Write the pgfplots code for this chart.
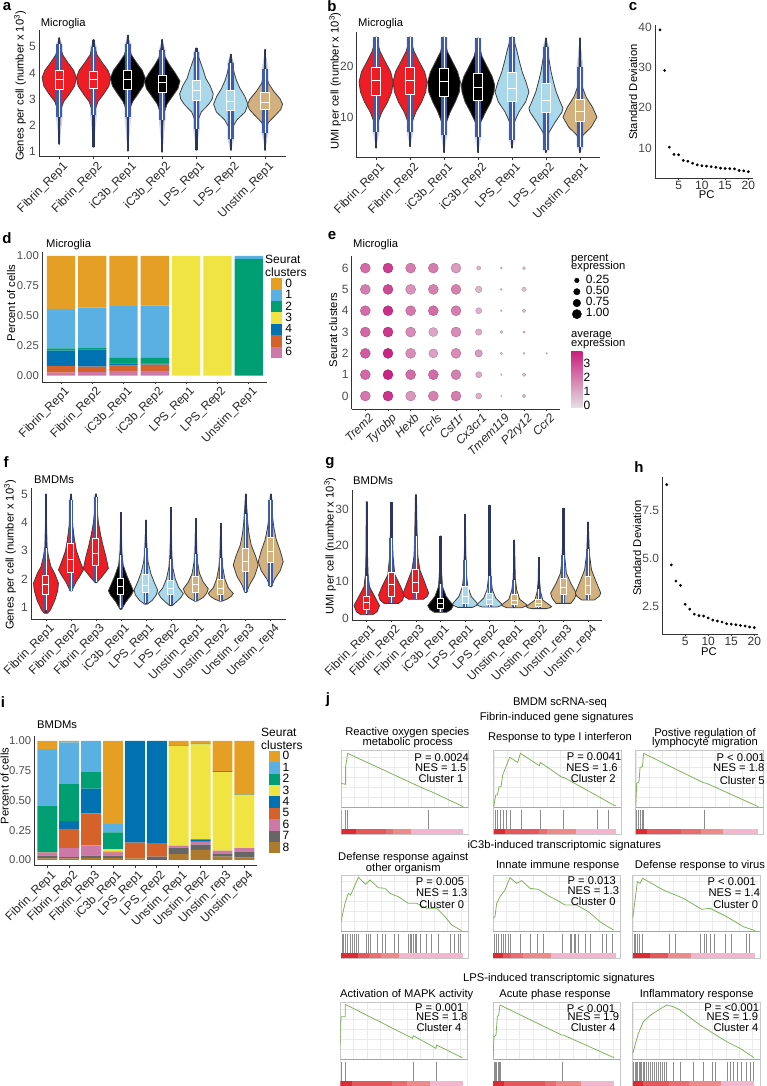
\documentclass[border=0pt]{standalone}
\usepackage{fontspec}
\setmainfont{Liberation Sans}
\usepackage{pgfplots}
\usepackage{pgfplotstable}
\pgfplotsset{compat=1.18}

\definecolor{cZ}{HTML}{E69F25}
\definecolor{cA}{HTML}{5AB0E2}
\definecolor{cB}{HTML}{009E73}
\definecolor{cC}{HTML}{F0E442}
\definecolor{cD}{HTML}{0072B2}
\definecolor{cE}{HTML}{D5622A}
\definecolor{cF}{HTML}{CC79A7}
\definecolor{cG}{HTML}{666666}
\definecolor{cH}{HTML}{AD7A2E}
\definecolor{vred}{HTML}{EE1C25}
\definecolor{vblue}{HTML}{A8D8EA}
\definecolor{vtan}{HTML}{D2B17F}
\definecolor{band}{HTML}{3F5BA9}
\definecolor{spine}{HTML}{2A3560}
\definecolor{sA}{HTML}{DC2B35}
\definecolor{sB}{HTML}{E5575B}
\definecolor{sC}{HTML}{E86E72}
\definecolor{sD}{HTML}{EE8A8A}
\definecolor{sP}{HTML}{F4B6CF}
\definecolor{gcurve}{HTML}{7FB45A}
\definecolor{hi}{HTML}{C8207F}
\definecolor{lo}{HTML}{E4E0E2}

\newcommand\tk{\fontsize{12}{13}\selectfont}
\newcommand\sm{\fontsize{11.2}{12}\selectfont}
\newcommand\txt[4][]{\node[inner sep=0pt,font=\sm,#1] at (#2pt,-#3pt) {#4};}
\newcommand\plab[3]{\node[inner sep=0pt,font=\fontsize{15}{15}\selectfont\bfseries] at (#1pt,-#2pt) {#3};}

\pgfplotsset{
  panel/.style={scale only axis,axis lines=left,clip=false,
    axis line style={-,black!80,line width=1pt},
    tick align=outside,major tick length=2pt,
    tick style={black!80,line width=.6pt},ytick style={draw=none},
    yticklabel style={font=\tk,text=black!70,inner sep=1pt},
    xticklabel style={font=\tk,text=black!80,inner sep=1pt},
    /pgf/number format/assume math mode=true},
  rot/.style={xticklabel style={rotate=45,anchor=north east,font=\tk,text=black!85,inner sep=1pt,xshift=2pt,yshift=-2pt}},
  lg/.style={draw=none,fill=#1,legend image code/.code={\fill[fill=#1] (0pt,-5.7pt) rectangle (11pt,5.7pt);}},
}

% violin outline, mirrored from y/halfwidth pairs
\newcommand\vio[3]{%
  \gdef\acR{}\gdef\acL{}%
  \foreach \yy/\ww in {#3}{%
    \pgfmathsetmacro\xr{#1+\ww}\pgfmathsetmacro\xl{#1-\ww}%
    \xdef\acR{\acR (\xr,\yy)}\xdef\acL{(\xl,\yy) \acL}}%
  \edef\tmp{\noexpand\addplot[fill=#2,draw=black!75,line width=.8pt,forget plot] coordinates {\acR\space\acL} -- cycle;}\tmp}
% centre, fill, ymin, lower whisker, q1, median, q3, upper whisker, ymax
\newcommand\vbx[9]{%
  \pgfmathsetmacro\xa{#1-.12}\pgfmathsetmacro\xb{#1+.12}%
  \pgfmathsetmacro\fa{#1-\fuzz}\pgfmathsetmacro\fb{#1+\fuzz}%
  \addplot[fill=band,draw=none,opacity=.25,forget plot] coordinates {(#1,#3)(\fb,#4)(\fb,#8)(#1,#9)(\fa,#8)(\fa,#4)} -- cycle;
  \addplot[spine,line width=\spw,forget plot] coordinates {(#1,#3)(#1,#9)};
  \addplot[band,line width=\bdw,forget plot] coordinates {(#1,#4)(#1,#8)};
  \addplot[white,line width=.8pt,forget plot] coordinates {(#1,#4)(#1,#8)};
  \addplot[fill=#2,draw=white,line width=1pt,forget plot] coordinates {(\xa,#5)(\xb,#5)(\xb,#7)(\xa,#7)} -- cycle;
  \addplot[white,line width=1pt,forget plot] coordinates {(\xa,#6)(\xb,#6)};
}
% GSEA panel: left, top, curve, hit positions, colour bar segments
\newcommand\gs[5]{%
\begin{axis}[at={(#1pt,-#2pt)},anchor=north west,scale only axis,width=127.3pt,height=83.3pt,
  xmin=0,xmax=382,ymin=0,ymax=250,y dir=reverse,
  xtick={0,40,...,380},ytick={20,50,...,170},xticklabels={},yticklabels={},tick style={draw=none},
  grid=major,grid style={black!8,line width=.4pt},axis line style={black!22,line width=.5pt}]
  \addplot[fill=white,draw=none,forget plot] coordinates {(0,170)(382,170)(382,250)(0,250)} -- cycle;
  \addplot[black!35,line width=.5pt,forget plot] coordinates {(0,170)(382,170)};
  \addplot[gcurve,line width=.8pt,forget plot] coordinates {#3};
  \foreach \t in {#4}{\edef\tmp{\noexpand\addplot[black!45,line width=.75pt,forget plot] coordinates {(\t,178)(\t,235)};}\tmp}
  \foreach \c/\p/\q in {#5}{\edef\tmp{\noexpand\addplot[fill=\c,draw=none,forget plot] coordinates {(\p,235)(\q,235)(\q,250)(\p,250)} -- cycle;}\tmp}
\end{axis}}

\pgfplotstableread{
b c6 c5 c4 c3 c2 c1 c0
1 .025 .056 .128 0 .019 .329 .443
2 .03 .045 .145 0 .011 .337 .432
3 .04 .044 .019 0 .045 .434 .418
4 .04 .052 .011 0 .045 .437 .415
5 0 0 0 1 0 0 0
6 0 0 0 1 0 0 0
7 0 0 0 0 .975 .025 0
}\tabd
\pgfplotstableread{
b c8 c7 c6 c5 c4 c3 c2 c1 c0
1 .014 .022 .025 .003 0 0 .391 .475 .07
2 .014 .011 .075 .16 .067 0 .31 .349 .014
3 .017 .019 .087 .268 .207 0 .139 .263 0
4 .017 .019 .025 .009 0 .019 .143 .07 .698
5 .014 0 0 .131 .855 0 0 0 0
6 0 .028 0 .114 .858 0 0 0 0
7 .05 .053 .017 0 0 .838 .004 0 .038
8 .084 .044 .023 .008 .014 .796 .006 0 .025
9 .028 .022 .028 0 0 .662 .006 0 .254
10 .02 .047 .033 0 0 .445 .003 0 .452
}\tabi

\begin{document}
\begin{tikzpicture}
\path[use as bounding box] (0pt,0pt) rectangle (766pt,-1086pt);

% ---- a
\def\fuzz{.1}\def\spw{2.2pt}\def\bdw{5.5pt}
\begin{axis}[panel,rot,at={(39pt,-157pt)},width=247pt,height=127pt,
  xmin=.41,xmax=7.61,ymin=.77,ymax=5.65,xtick={1,...,7},ytick={1,2,3,4,5},
  xticklabels={Fibrin\_Rep1,Fibrin\_Rep2,iC3b\_Rep1,iC3b\_Rep2,LPS\_Rep1,LPS\_Rep2,Unstim\_Rep1}]
\vio{1}{vred}{1.26/.01,2.2/.02,2.6/.05,2.9/.13,3.2/.3,3.5/.45,3.82/.5,4.1/.42,4.4/.25,4.7/.1,5/.04,5.35/.01}
\vbx{1}{vred}{1.26}{2.3}{3.36}{3.74}{4.08}{5.1}{5.35}
\vio{2}{vred}{1.15/.01,2.2/.02,2.6/.05,2.9/.13,3.2/.3,3.5/.45,3.82/.5,4.1/.42,4.4/.25,4.7/.1,5/.04,5.28/.01}
\vbx{2}{vred}{1.15}{2.4}{3.4}{3.76}{4.06}{5.0}{5.28}
\vio{3}{black}{1/.01,2.2/.02,2.6/.05,2.9/.14,3.2/.3,3.5/.45,3.8/.51,4.1/.42,4.4/.25,4.7/.1,5/.04,5.45/.01}
\vbx{3}{black}{1}{2.3}{3.36}{3.74}{4.08}{5.1}{5.45}
\vio{4}{black}{.96/.01,2/.02,2.4/.04,2.8/.14,3.1/.3,3.4/.46,3.69/.52,4/.38,4.3/.22,4.6/.09,5/.03,5.28/.01}
\vbx{4}{black}{.96}{2.2}{3.23}{3.64}{3.92}{4.9}{5.28}
\vio{5}{vblue}{1.03/.01,1.8/.02,2.2/.05,2.5/.14,2.8/.36,3/.46,3.2/.49,3.5/.4,3.8/.27,4.1/.2,4.4/.12,4.7/.04,4.96/.01}
\vbx{5}{vblue}{1.03}{1.85}{2.95}{3.33}{3.7}{4.8}{4.96}
\vio{6}{vblue}{1.03/.01,1.5/.02,1.9/.05,2.2/.18,2.5/.42,2.8/.5,3.1/.41,3.4/.27,3.7/.17,4/.1,4.3/.05,4.72/.01}
\vbx{6}{vblue}{1.03}{1.45}{2.56}{2.91}{3.31}{4.4}{4.72}
\vio{7}{vtan}{1.03/.01,1.5/.02,1.9/.04,2.1/.1,2.4/.32,2.6/.46,2.8/.51,3/.44,3.3/.25,3.6/.1,3.9/.04,4.3/.02,4.9/.01}
\vbx{7}{vtan}{1.03}{1.7}{2.6}{2.88}{3.23}{4.15}{4.9}
\end{axis}

% ---- b
\begin{axis}[panel,rot,at={(356.7pt,-158pt)},width=243.3pt,height=126pt,
  xmin=.43,xmax=7.59,ymin=1.9,ymax=26.9,xtick={1,...,7},ytick={10,20},
  xticklabels={Fibrin\_Rep1,Fibrin\_Rep2,iC3b\_Rep1,iC3b\_Rep2,LPS\_Rep1,LPS\_Rep2,Unstim\_Rep1}]
\vio{1}{vred}{3.9/.01,7/.02,9/.06,11/.17,13/.34,15/.46,17/.5,19/.43,21/.27,23/.12,25/.03,25.9/.01}
\vbx{1}{vred}{3.9}{7}{14.3}{17.2}{19.8}{25.9}{25.9}
\vio{2}{vred}{4.2/.01,7/.02,9/.06,11/.17,13/.34,15/.46,17/.5,19/.43,21/.27,23/.12,25/.03,25.9/.01}
\vbx{2}{vred}{4.2}{7}{14.4}{17.2}{19.8}{25.9}{25.9}
\vio{3}{black}{3/.01,7/.02,9/.07,11/.18,13/.33,15/.45,17/.48,19/.4,21/.25,23/.1,25/.03,25.9/.01}
\vbx{3}{black}{3}{6.5}{14.1}{17}{19.7}{25.9}{25.9}
\vio{4}{black}{3/.01,7/.02,9/.08,11/.22,13/.38,15/.47,16.4/.49,18/.42,20/.27,22/.12,24/.04,25.7/.01}
\vbx{4}{black}{3}{6}{13.4}{15.9}{18.7}{25.7}{25.7}
\vio{5}{vblue}{3.9/.01,7/.02,9/.07,11/.2,13/.4,15/.5,17/.41,19/.3,21/.22,23/.15,25/.07,25.9/.02}
\vbx{5}{vblue}{3.9}{5.5}{13.1}{15.7}{18.9}{25.9}{25.9}
\vio{6}{vblue}{3/.01,5/.02,7/.09,9/.27,11/.47,11.8/.5,13/.42,15/.3,17/.22,19/.15,21/.1,23/.05,25.7/.01}
\vbx{6}{vblue}{3}{3.5}{11}{13.4}{16.6}{24}{25.7}
\vio{7}{vtan}{3/.01,5.5/.02,6.5/.1,8/.33,10/.5,12/.37,14/.18,16/.07,18/.04,20/.03,25.7/.01}
\vbx{7}{vtan}{3}{4}{9.1}{11.1}{13.6}{20}{25.7}
\end{axis}

% ---- c
\begin{axis}[panel,at={(655pt,-178.3pt)},width=98pt,height=153.3pt,
  xmin=-.08,xmax=21,ymin=2.46,ymax=40.6,xtick={5,10,15,20},ytick={10,20,30,40}]
\addplot[only marks,mark=*,mark size=1.2pt,black] coordinates {(1,39.4)(2,29.3)(3,10.2)(4,8.4)(5,8.3)(6,6.9)(7,6.7)(8,6.2)(9,5.8)(10,5.6)(11,5.5)(12,5.35)(13,5.2)(14,5)(15,4.9)(16,4.85)(17,4.8)(18,4.4)(19,4.3)(20,4.1)};
\end{axis}

% ---- d
\begin{axis}[panel,rot,at={(42pt,-382pt)},width=225pt,height=130pt,
  ybar stacked,bar width=.905,xmin=.393,xmax=7.585,ymin=-.053,ymax=1.033,xtick={1,...,7},
  ytick={0,.25,.5,.75,1},yticklabels={0.00,0.25,0.50,0.75,1.00},
  yticklabel style={font=\fontsize{11.3}{12}\selectfont},
  xticklabels={Fibrin\_Rep1,Fibrin\_Rep2,iC3b\_Rep1,iC3b\_Rep2,LPS\_Rep1,LPS\_Rep2,Unstim\_Rep1},
  reverse legend,legend cell align=left,
  legend style={at={(1.018,.8)},anchor=north west,draw=none,fill=none,inner sep=0pt,font=\tk,
    nodes={inner sep=0pt,minimum height=11.4pt},row sep=0pt,/tikz/column sep=3pt}]
\addplot[lg=cF] table[x=b,y=c6] {\tabd};\addlegendentry{6}
\addplot[lg=cE] table[x=b,y=c5] {\tabd};\addlegendentry{5}
\addplot[lg=cD] table[x=b,y=c4] {\tabd};\addlegendentry{4}
\addplot[lg=cC] table[x=b,y=c3] {\tabd};\addlegendentry{3}
\addplot[lg=cB] table[x=b,y=c2] {\tabd};\addlegendentry{2}
\addplot[lg=cA] table[x=b,y=c1] {\tabd};\addlegendentry{1}
\addplot[lg=cZ] table[x=b,y=c0] {\tabd};\addlegendentry{0}
\end{axis}

% ---- e
\begin{axis}[panel,rot,at={(351.7pt,-409pt)},width=208.3pt,height=153.3pt,
  xmin=.4,xmax=9.587,ymin=-.61,ymax=6.58,xtick={1,...,9},ytick={0,...,6},
  xticklabels={\textit{Trem2},\textit{Tyrobp},\textit{Hexb},\textit{Fcrls},\textit{Csf1r},\textit{Cx3cr1},\textit{Tmem119},\textit{P2ry12},\textit{Ccr2}},
  colormap={ex}{rgb255=(228,224,226) rgb255=(200,32,127)},point meta min=0,point meta max=3.7]
\addplot[scatter,only marks,mark=*,point meta=\thisrow{c},
  visualization depends on={\thisrow{r}\as\rr},
  scatter/@pre marker code/.append style={/tikz/mark size=\rr}] table {
x y r c
1 6 5 2.2
2 6 5 3.1
3 6 5 1.9
4 6 5 1.9
5 6 5 1.3
6 6 2 .8
7 6 1 .5
8 6 1.5 .7
1 5 5 1.9
2 5 5 2.9
3 5 5 1.5
4 5 5 1.8
5 5 5 1.8
6 5 3.3 .8
7 5 1 .4
8 5 2.2 .6
1 4 5 2.2
2 4 5 3.4
3 4 5 2.0
4 4 5 2.2
5 4 5 1.9
6 4 3 .9
7 4 .9 .4
8 4 1.8 .6
1 3 5 2.3
2 3 5 3.2
3 3 5 1.6
4 3 4.5 1.1
5 3 5 1.6
6 3 3.2 1
7 3 1.5 .6
8 3 1.2 .7
1 2 5 2.5
2 2 5 3.6
3 2 5 1.6
4 2 4.5 1.2
5 2 5 1.6
6 2 3.7 1.3
7 2 1.2 .5
8 2 1 .6
9 2 .8 .5
1 1 5 2.3
2 1 5 3.6
3 1 5 2.2
4 1 5 2.2
5 1 5 1.8
6 1 3 1
7 1 .8 .3
8 1 1.8 .6
1 0 5 2
2 0 5 3.3
3 0 5 1.4
4 0 5 1.8
5 0 5 1.9
6 0 3 .9
7 0 .8 .3
8 0 1.8 .6
};
\addplot[only marks,mark=*,mark size=2.3pt,black] coordinates {(10.33,5.42)};
\addplot[only marks,mark=*,mark size=3.2pt,black] coordinates {(10.33,4.89)};
\addplot[only marks,mark=*,mark size=3.8pt,black] coordinates {(10.33,4.36)};
\addplot[only marks,mark=*,mark size=4.6pt,black] coordinates {(10.33,3.84)};
\end{axis}

% ---- f
\def\fuzz{.09}\def\spw{1.6pt}\def\bdw{4.5pt}
\begin{axis}[panel,rot,at={(31pt,-619pt)},width=254.7pt,height=130.7pt,
  xmin=.4,xmax=10.6,ymin=.6,ymax=5.2,xtick={1,...,10},ytick={1,2,3,4,5},
  xticklabels={Fibrin\_Rep1,Fibrin\_Rep2,Fibrin\_Rep3,iC3b\_Rep1,LPS\_Rep1,LPS\_Rep2,Unstim\_Rep1,Unstim\_Rep2,Unstim\_rep3,Unstim\_rep4}]
\vio{1}{vred}{.8/.06,.92/.18,1.27/.36,1.6/.47,1.86/.5,2.2/.35,2.44/.2,2.8/.1,3.15/.04,4/.01,5/.005}
\vbx{1}{vred}{.8}{.9}{1.47}{1.82}{2.13}{3.1}{5}
\vio{2}{vred}{1.59/.03,1.9/.2,2.1/.35,2.33/.5,2.6/.38,3/.22,3.4/.14,3.9/.07,4.5/.03,5/.01}
\vbx{2}{vred}{1.59}{1.6}{2.24}{2.7}{3.26}{4.8}{5}
\vio{3}{vred}{1.88/.03,2.1/.25,2.38/.5,2.8/.4,3.2/.28,3.6/.18,4/.1,4.5/.04,5/.02}
\vbx{3}{vred}{1.88}{1.9}{2.47}{2.91}{3.44}{4.9}{5}
\vio{4}{black}{.94/.03,1.2/.2,1.45/.42,1.59/.5,1.8/.4,2.1/.25,2.5/.09,3/.03,3.5/.01,4.35/.005}
\vbx{4}{black}{.94}{1}{1.46}{1.74}{2.02}{2.85}{4.35}
\vio{5}{vblue}{1.12/.05,1.25/.25,1.45/.42,1.62/.47,1.9/.33,2.2/.2,2.6/.09,3/.04,3.5/.02,4.08/.005}
\vbx{5}{vblue}{1.12}{1.15}{1.53}{1.77}{2.17}{3.1}{4.08}
\vio{6}{vblue}{1.07/.05,1.2/.22,1.35/.4,1.5/.5,1.7/.32,2/.18,2.4/.08,2.8/.04,3.4/.01,4.53/.005}
\vbx{6}{vblue}{1.07}{1.1}{1.45}{1.66}{1.96}{2.7}{4.53}
\vio{7}{vtan}{1.23/.05,1.35/.28,1.5/.43,1.66/.5,1.9/.3,2.2/.15,2.6/.07,3/.03,4.14/.005}
\vbx{7}{vtan}{1.23}{1.25}{1.54}{1.8}{2.1}{2.9}{4.14}
\vio{8}{vtan}{1.23/.05,1.3/.25,1.4/.42,1.5/.5,1.7/.3,2/.17,2.4/.08,2.8/.03,3.97/.005}
\vbx{8}{vtan}{1.23}{1.25}{1.48}{1.68}{2}{2.75}{3.97}
\vio{9}{vtan}{1.53/.03,1.8/.15,2.1/.35,2.5/.5,2.8/.4,3.2/.22,3.6/.13,4/.08,4.5/.04,5/.01}
\vbx{9}{vtan}{1.53}{1.55}{2.27}{2.62}{3.09}{4.3}{5}
\vio{10}{vtan}{1.74/.03,2/.15,2.3/.38,2.62/.5,3/.38,3.4/.22,3.8/.13,4.2/.07,4.6/.03,5/.01}
\vbx{10}{vtan}{1.74}{1.75}{2.58}{2.99}{3.47}{4.8}{5}
\end{axis}

% ---- g
\def\fuzz{.07}\def\spw{2.4pt}\def\bdw{4pt}
\begin{axis}[panel,rot,at={(352pt,-620.3pt)},width=250.3pt,height=130.3pt,
  xmin=.4,xmax=10.58,ymin=-.55,ymax=35.2,xtick={1,...,10},ytick={0,10,20,30},
  xticklabels={Fibrin\_Rep1,Fibrin\_Rep2,Fibrin\_Rep3,iC3b\_Rep1,LPS\_Rep1,LPS\_Rep2,Unstim\_Rep1,Unstim\_Rep2,Unstim\_rep3,Unstim\_rep4}]
\vio{1}{vred}{1/.25,1.8/.42,3.5/.52,6/.32,8.7/.11,12.4/.05,18/.03,32/.02}
\vbx{1}{vred}{1}{1.2}{2.3}{4.3}{6.1}{11.5}{32}
\vio{2}{vred}{4.1/.3,5/.46,6.4/.52,8.7/.38,12/.14,17/.07,22/.04,31.8/.02}
\vbx{2}{vred}{4.1}{4.2}{5.9}{9.4}{12.6}{22}{31.8}
\vio{3}{vred}{5.2/.3,6/.46,6.9/.52,9.6/.37,13.3/.16,17/.08,22/.05,33.9/.02}
\vbx{3}{vred}{5.2}{5.3}{7}{9.8}{13.4}{22.5}{33.9}
\vio{4}{black}{1.65/.25,2.4/.43,3.5/.52,6/.23,8.7/.08,13/.04,22.6/.01}
\vbx{4}{black}{1.65}{1.8}{2.7}{4.1}{5.5}{9.5}{22.6}
\vio{5}{vblue}{3/.3,3.5/.46,3.9/.52,6/.25,8.7/.11,12.4/.05,17/.03,28.5/.01}
\vbx{5}{vblue}{3}{3.1}{4.1}{5.9}{8.7}{16}{28.5}
\vio{6}{vblue}{3.1/.3,3.4/.44,3.75/.52,5.5/.25,7.8/.11,11/.05,15/.03,31/.01}
\vbx{6}{vblue}{3.1}{3.2}{3.7}{5.2}{6.9}{11.5}{31}
\vio{7}{vtan}{2.9/.3,3.3/.45,3.66/.52,5.2/.22,7.8/.1,11/.04,21.5/.01}
\vbx{7}{vtan}{2.9}{3}{3.7}{5}{6.6}{10.5}{21.5}
\vio{8}{vtan}{2.65/.3,2.9/.45,3.2/.52,5/.16,7.3/.07,10/.03,16.7/.01}
\vbx{8}{vtan}{2.65}{2.7}{3.2}{4.1}{5.2}{8}{16.7}
\vio{9}{vtan}{4.1/.3,5.5/.46,6.9/.52,9.6/.3,12.4/.12,17/.05,22/.03,30.2/.01}
\vbx{9}{vtan}{4.1}{4.2}{6.4}{8.5}{10.8}{17.5}{30.2}
\vio{10}{vtan}{5/.25,6/.45,6.9/.52,10.5/.3,13.3/.14,18/.05,26.4/.01}
\vbx{10}{vtan}{5}{5.1}{6.6}{9}{11.6}{19}{26.4}
\end{axis}

% ---- h
\begin{axis}[panel,at={(662.3pt,-634.3pt)},width=96pt,height=157pt,
  xmin=.05,xmax=20.87,ymin=1.03,ymax=9.2,xtick={5,10,15,20},ytick={2.5,5,7.5},
  yticklabels={2.5,5.0,7.5}]
\addplot[only marks,mark=*,mark size=1.2pt,black] coordinates {(1,8.82)(2,4.64)(3,3.8)(4,3.58)(5,2.59)(6,2.34)(7,2.08)(8,2)(9,1.98)(10,1.88)(11,1.77)(12,1.72)(13,1.67)(14,1.58)(15,1.56)(16,1.53)(17,1.49)(18,1.46)(19,1.41)(20,1.38)};
\end{axis}

% ---- i
\begin{axis}[panel,rot,at={(34.3pt,-865.7pt)},width=223pt,height=129.7pt,
  ybar stacked,bar width=.91,xmin=.406,xmax=10.59,ymin=-.048,ymax=1.04,xtick={1,...,10},
  ytick={0,.25,.5,.75,1},yticklabels={0.00,0.25,0.50,0.75,1.00},
  yticklabel style={font=\fontsize{11.3}{12}\selectfont},
  xticklabels={Fibrin\_Rep1,Fibrin\_Rep2,Fibrin\_Rep3,iC3b\_Rep1,LPS\_Rep1,LPS\_Rep2,Unstim\_Rep1,Unstim\_Rep2,Unstim\_rep3,Unstim\_rep4},
  reverse legend,legend cell align=left,
  legend style={at={(1.05,.888)},anchor=north west,draw=none,fill=none,inner sep=0pt,font=\tk,
    nodes={inner sep=0pt,minimum height=11.4pt},row sep=0pt,/tikz/column sep=3pt}]
\addplot[lg=cH] table[x=b,y=c8] {\tabi};\addlegendentry{8}
\addplot[lg=cG] table[x=b,y=c7] {\tabi};\addlegendentry{7}
\addplot[lg=cF] table[x=b,y=c6] {\tabi};\addlegendentry{6}
\addplot[lg=cE] table[x=b,y=c5] {\tabi};\addlegendentry{5}
\addplot[lg=cD] table[x=b,y=c4] {\tabi};\addlegendentry{4}
\addplot[lg=cC] table[x=b,y=c3] {\tabi};\addlegendentry{3}
\addplot[lg=cB] table[x=b,y=c2] {\tabi};\addlegendentry{2}
\addplot[lg=cA] table[x=b,y=c1] {\tabi};\addlegendentry{1}
\addplot[lg=cZ] table[x=b,y=c0] {\tabi};\addlegendentry{0}
\end{axis}

% ---- j
\gs{341.3}{750.7}{(0,98)(13,101)(13,48)(19,8)(261,120)(266,121)(366,168)}{1,12,17,262}{sA/0/44,sB/44/135,sC/135/155,sD/155/210,sP/210/365}
\gs{493.7}{750.7}{(0,168)(6,133)(11,133)(16,108)(22,108)(27,73)(36,50)(48,20)(72,35)(80,8)(137,45)(140,35)(205,80)(210,80)(310,135)(345,155)(366,166)}{4,12,20,30,39,49,82,139,209,312,343}{sA/0/33,sB/33/135,sC/135/160,sD/160/248,sP/248/366}
\gs{635.7}{750.7}{(0,165)(3,98)(10,93)(13,50)(20,48)(24,8)(203,96)(213,98)(368,168)}{2,8,14,19,24,205}{sA/0/33,sB/33/137,sC/137/195,sD/195/262,sP/262/368}
\gs{341}{875}{(0,140)(12,85)(22,55)(29,60)(52,7)(74,28)(87,15)(112,38)(132,40)(147,55)(172,65)(202,85)(227,85)(257,100)(287,100)(312,125)(332,150)(362,167)}{3,8,13,19,29,34,40,47,53,77,82,87,109,124,132,160,172,202,207,212,217,222,227,237,257,272,292,327,339,352,357}{sA/0/52,sB/52/85,sC/85/120,sD/120/175,sP/175/366}
\gs{493}{875}{(0,130)(6,125)(11,85)(21,65)(36,45)(51,8)(71,25)(86,17)(111,40)(136,43)(171,65)(191,75)(216,90)(251,90)(286,110)(321,140)(361,165)}{3,9,16,24,31,38,46,53,81,111,133,151,208,231,236,243,248,256,276,291,328,341,358}{sA/0/30,sB/30/55,sC/55/90,sD/90/175,sP/175/368}
\gs{632.7}{875}{(0,130)(7,75)(14,20)(22,25)(30,10)(92,45)(152,70)(207,103)(232,100)(282,125)(332,155)(367,167)}{4,9,14,20,30,109,127,202,214,222,232,244,277,295,342,350}{sA/0/52,sB/52/105,sD/105/175,sP/175/368}
\gs{340.3}{1002.7}{(0,127)(2,42)(15,42)(15,5)(217,107)(219,99)(287,137)(289,127)(366,165)}{2,15,220,288}{sA/0/35,sB/35/155,sC/155/200,sD/200/268,sP/268/368}
\gs{493}{1002.7}{(0,168)(3,102)(9,97)(13,42)(17,37)(21,7)(206,97)(211,97)(363,165)}{3,7,11,15,19,23,208}{sA/0/33,sB/33/155,sC/155/190,sD/190/265,sP/265/362}
\gs{632.7}{1002.7}{(0,152)(7,127)(17,92)(32,57)(54,37)(77,22)(102,7)(122,12)(142,22)(202,67)(242,92)(282,117)(322,137)(364,165)}{3,7,11,15,19,23,27,31,35,40,47,54,60,66,72,78,84,90,96,102,122,142,182,212,240,247,285,292,302,315,327,340,352,362}{sA/0/30,sB/30/110,sC/110/170,sD/170/265,sP/265/365}

% ---- text
\plab{7}{7}{a}\plab{332}{6}{b}\plab{633}{7}{c}\plab{7}{238}{d}\plab{332}{236}{e}
\plab{6}{462}{f}\plab{330}{463}{g}\plab{639}{467}{h}\plab{3}{702}{i}\plab{328}{700}{j}

\txt[anchor=west]{40.7}{24}{Microglia}
\txt[anchor=west]{358}{24}{Microglia}
\txt[anchor=west]{46}{245}{Microglia}
\txt[anchor=west]{353}{245}{Microglia}
\txt[anchor=west]{34}{480}{BMDMs}
\txt[anchor=west]{353}{481}{BMDMs}
\txt[anchor=west]{37}{724.3}{BMDMs}

\txt[rotate=90]{20}{86}{Genes per cell (number x 10\textsuperscript{3})}
\txt[rotate=90]{335}{81}{UMI per cell (number x 10\textsuperscript{3})}
\txt[rotate=90]{633}{92}{Standard Deviation}
\txt{706.7}{195}{PC}
\txt[rotate=90]{11}{303}{Percent of cells}
\txt[rotate=90]{333}{330}{Seurat clusters}
\txt[rotate=90]{10}{555}{Genes per cell (number x 10\textsuperscript{3})}
\txt[rotate=90]{330}{546}{UMI per cell (number x 10\textsuperscript{3})}
\txt[rotate=90]{637}{548}{Standard Deviation}
\txt{709}{652}{PC}
\txt[rotate=90]{4.5}{786}{Percent of cells}

\txt[anchor=west,font=\tk]{265}{259}{Seurat}
\txt[anchor=west,font=\tk]{265}{272}{clusters}
\txt[anchor=west,font=\tk]{261}{732}{Seurat}
\txt[anchor=west,font=\tk]{261}{745.7}{clusters}

\txt[anchor=west]{571}{259}{percent}
\txt[anchor=west]{571}{267}{expression}
\txt[anchor=west,font=\tk]{585.7}{279}{0.25}
\txt[anchor=west,font=\tk]{585.7}{290}{0.50}
\txt[anchor=west,font=\tk]{585.7}{301.5}{0.75}
\txt[anchor=west,font=\tk]{585.7}{312.5}{1.00}
\txt[anchor=west]{571}{336}{average}
\txt[anchor=west]{571}{344}{expression}
\shade[bottom color=lo,top color=hi] (571pt,-407.3pt) rectangle (582.3pt,-351.7pt);
\txt[anchor=west,font=\tk]{583.5}{363}{3}
\txt[anchor=west,font=\tk]{583.5}{377}{2}
\txt[anchor=west,font=\tk]{583.5}{391}{1}
\txt[anchor=west,font=\tk]{583.5}{405}{0}

\txt{560}{703.3}{BMDM scRNA-seq}
\txt{556.7}{717.3}{Fibrin-induced gene signatures}
\txt{407.3}{732.3}{Reactive oxygen species}
\txt{407.7}{742.7}{metabolic process}
\txt{560}{737.3}{Response to type I interferon}
\txt{705}{733.3}{Postive regulation of}
\txt{705}{742.7}{lymphocyte migration}
\txt{441.7}{757.3}{P = 0.0024}\txt{440.7}{768}{NES = 1.5}\txt{441}{778.3}{Cluster 1}
\txt{594}{757}{P = 0.0041}\txt{592}{768}{NES = 1.6}\txt{593.3}{778.3}{Cluster 2}
\txt{740.7}{757.3}{P < 0.001}\txt{738.7}{768}{NES = 1.8}\txt{742.3}{780}{Cluster 5}

\txt{564.3}{846}{iC3b-induced transcriptomic signatures}
\txt{403.3}{857.7}{Defense response against}
\txt{403.3}{868.3}{other organism}
\txt{557.7}{866}{Innate immune response}
\txt{700}{866}{Defense response to virus}
\txt{440}{881.7}{P = 0.005}\txt{441.7}{892.3}{NES = 1.3}\txt{441.7}{904.3}{Cluster 0}
\txt{591.7}{881}{P = 0.013}\txt{593.3}{890.7}{NES = 1.3}\txt{593.3}{901}{Cluster 0}
\txt{731.7}{881.7}{P < 0.001}\txt{734.3}{892.3}{NES = 1.4}\txt{735.7}{904.3}{Cluster 0}

\txt{559}{979}{LPS-induced transcriptomic signatures}
\txt{406.7}{994.3}{Activation of MAPK activity}
\txt{555}{994.3}{Acute phase response}
\txt{696.7}{994.3}{Inflammatory response}
\txt{439.3}{1007.7}{P = 0.001}\txt{441.7}{1017}{NES = 1.8}\txt{439}{1027.3}{Cluster 4}
\txt{591}{1008.3}{P < 0.001}\txt{593.3}{1017}{NES = 1.9}\txt{593.3}{1027.3}{Cluster 4}
\txt{731.7}{1007.7}{P = <0.001}\txt{732.3}{1017}{NES = 1.9}\txt{736}{1027.3}{Cluster 4}
\end{tikzpicture}
\end{document}
